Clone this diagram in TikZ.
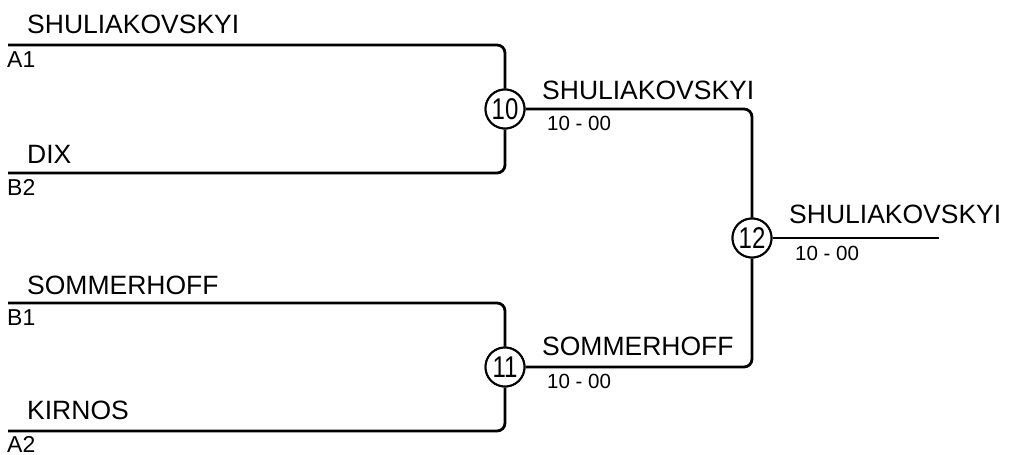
\documentclass[tikz,border=0pt]{standalone}
\usepackage{fontspec}
\setmainfont{Liberation Sans}
\newfontfamily\condfont[FakeStretch=0.8]{Liberation Sans}
\begin{document}
\begin{tikzpicture}[x=1pt,y=-1pt,
  wire/.style={draw=black,line width=2.8pt,rounded corners=8pt},
  match/.style={circle,draw=black,line width=2pt,fill=white,minimum size=39pt,inner sep=0pt,font=\condfont\fontsize{30}{30}\selectfont},
  player/.style={anchor=base west,inner sep=0pt,font=\fontsize{26.5}{30}\selectfont},
  seed/.style={anchor=base west,inner sep=0pt,font=\fontsize{23}{24}\selectfont},
  score/.style={anchor=base west,inner sep=0pt,font=\fontsize{20.5}{22}\selectfont}]
\useasboundingbox (0,0) rectangle (1015,455);
% start coordinates
\coordinate (sA1) at (8,45);
\coordinate (sB2) at (8,173);
\coordinate (sB1) at (8,303);
\coordinate (sA2) at (8,431);
\coordinate (fin) at (939,238);
% match circles
\node[match] (m10) at (505,109) {10};
\node[match] (m11) at (505,367) {11};
\node[match] (m12) at (752,238) {12};
% connectors
\draw[wire] (sA1) -| (m10);
\draw[wire] (sB2) -| (m10);
\draw[wire] (sB1) -| (m11);
\draw[wire] (sA2) -| (m11);
\draw[wire] (m10) -| (m12);
\draw[wire] (m11) -| (m12);
\draw[wire] (m12) -- (fin);
% redraw circles on top
\node[match] at (m10) {10};
\node[match] at (m11) {11};
\node[match] at (m12) {12};
% first round labels
\node[player] (p1) at (27,33) {SHULIAKOVSKYI};
\node[seed] (c1) at (7,67) {A1};
\node[player] (p2) at (27,163) {DIX};
\node[seed] (c2) at (7,195) {B2};
\node[player] (p3) at (27,294) {SOMMERHOFF};
\node[seed] (c3) at (7,325) {B1};
\node[player] (p4) at (27,419) {KIRNOS};
\node[seed] (c4) at (7,452) {A2};
% second round labels
\node[player] (w10) at (542,99) {SHULIAKOVSKYI};
\node[score] (s10) at (547,130) {10 - 00};
\node[player] (w11) at (542,355) {SOMMERHOFF};
\node[score] (s11) at (547,388) {10 - 00};
% final
\node[player] (w12) at (789,223) {SHULIAKOVSKYI};
\node[score] (s12) at (795,260) {10 - 00};
\end{tikzpicture}
\end{document}
